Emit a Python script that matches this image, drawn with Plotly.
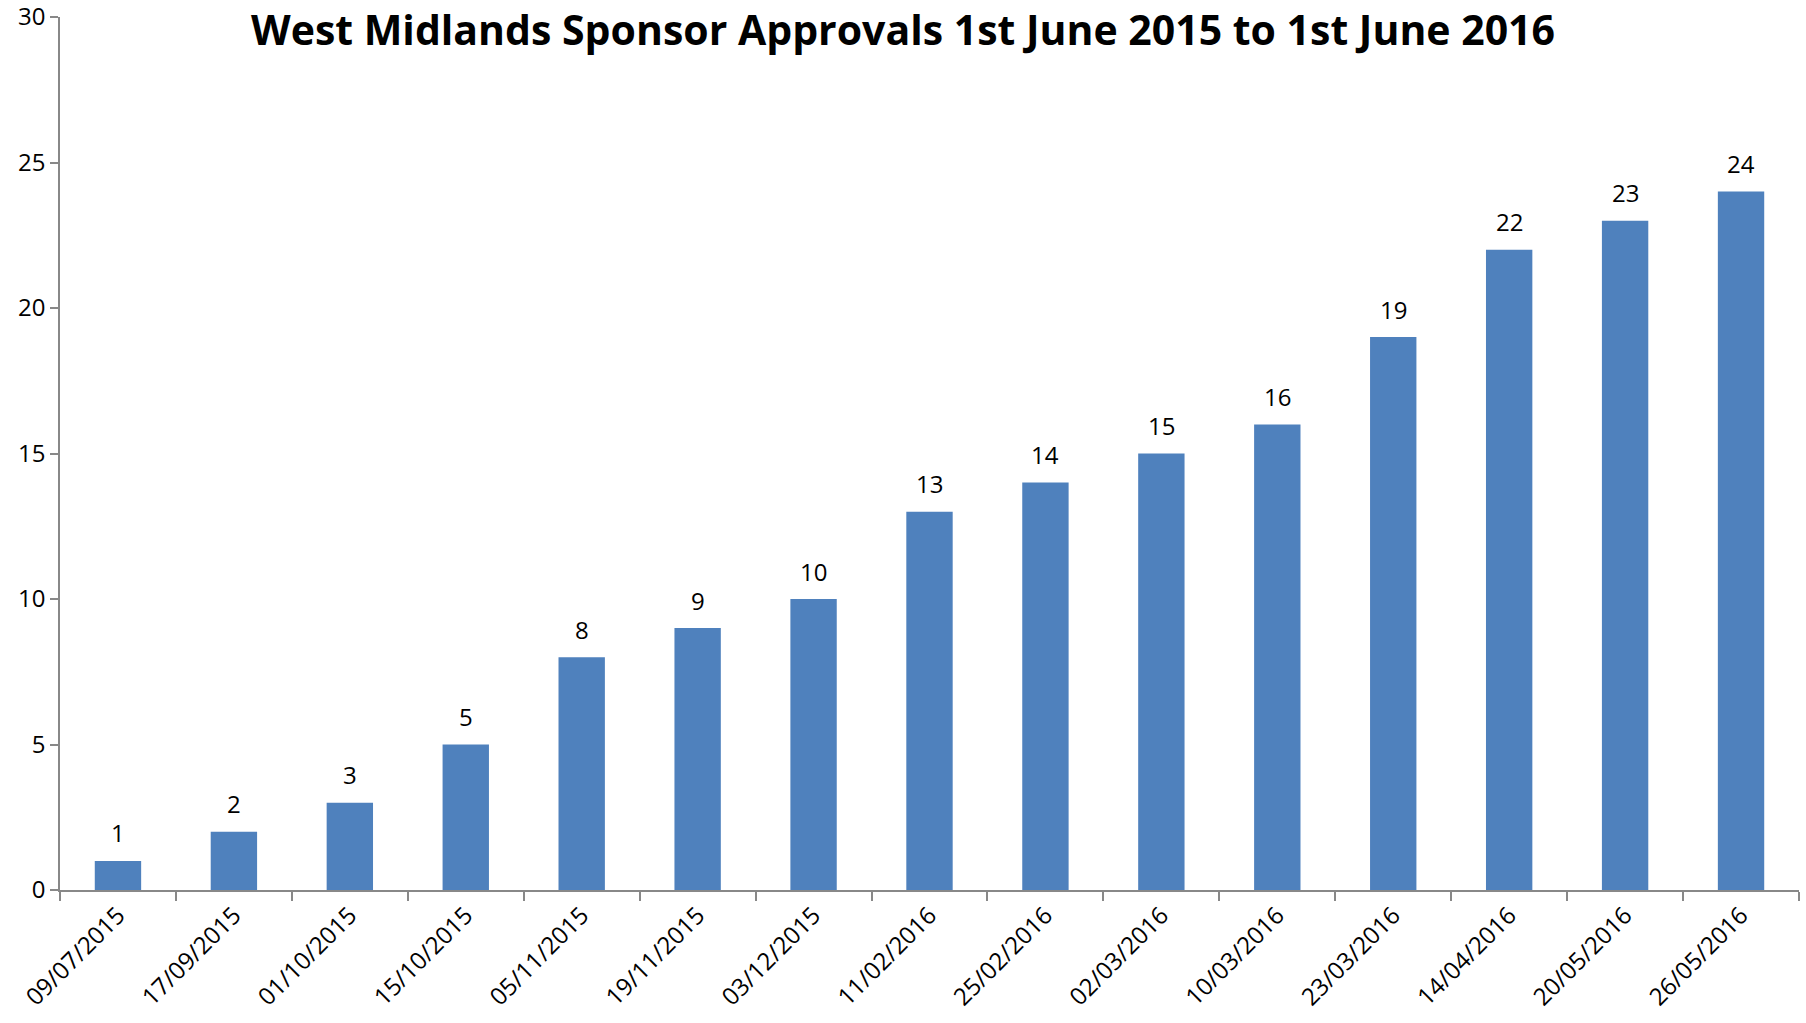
import plotly.graph_objects as go

dates = ["09/07/2015", "17/09/2015", "01/10/2015", "15/10/2015", "05/11/2015",
         "19/11/2015", "03/12/2015", "11/02/2016", "25/02/2016", "02/03/2016",
         "10/03/2016", "23/03/2016", "14/04/2016", "20/05/2016", "26/05/2016"]
approvals = [1, 2, 3, 5, 8, 9, 10, 13, 14, 15, 16, 19, 22, 23, 24]
y_ticks = [0, 5, 10, 15, 20, 25, 30]

title_text = "West Midlands Sponsor Approvals 1st June 2015 to 1st June 2016"
font_family = "Open Sans, Liberation Sans, DejaVu Sans, sans-serif"

fig = go.Figure(go.Bar(
    x=dates,
    y=approvals,
    marker=dict(color="#4F81BD", line=dict(width=0)),
    width=0.4,
    hoverinfo="x+y",
))

annotations = [
    dict(x=d, y=v, xref="x", yref="y", text=str(v), showarrow=False,
         yanchor="middle", yshift=28,
         font=dict(size=24, color="black", family=font_family))
    for d, v in zip(dates, approvals)
]

fig.update_layout(
    width=1806, height=1023,
    paper_bgcolor="white", plot_bgcolor="white",
    margin=dict(l=60, r=7, t=17, b=133, autoexpand=False),
    font=dict(family=font_family, color="black"),
    title=dict(text="<b>" + title_text + "</b>", x=0.5, xref="container",
               xanchor="center", y=1 - 31 / 1023, yref="container", yanchor="middle",
               font=dict(size=41, family=font_family, color="black")),
    showlegend=False,
    annotations=annotations,
)

fig.update_xaxes(
    type="category", automargin=False,
    showline=True, linecolor="#888888", linewidth=1.5,
    ticks="outside", ticklen=9, tickcolor="#888888", tickwidth=1.5,
    tickson="boundaries",
    tickangle=-45,
    tickfont=dict(size=24, color="black", family=font_family),
    showgrid=False, zeroline=False,
)
fig.update_yaxes(
    range=[0, 30], automargin=False,
    tickvals=y_ticks,
    ticklabeloverflow="allow",
    showline=True, linecolor="#888888", linewidth=1.5,
    ticks="outside", ticklen=8, tickcolor="#888888", tickwidth=1.5,
    tickfont=dict(size=24, color="black", family=font_family),
    showgrid=False, zeroline=False,
)

fig.write_html("out.html", config={"displayModeBar": False},
               post_script="document.body.style.margin='0';")
